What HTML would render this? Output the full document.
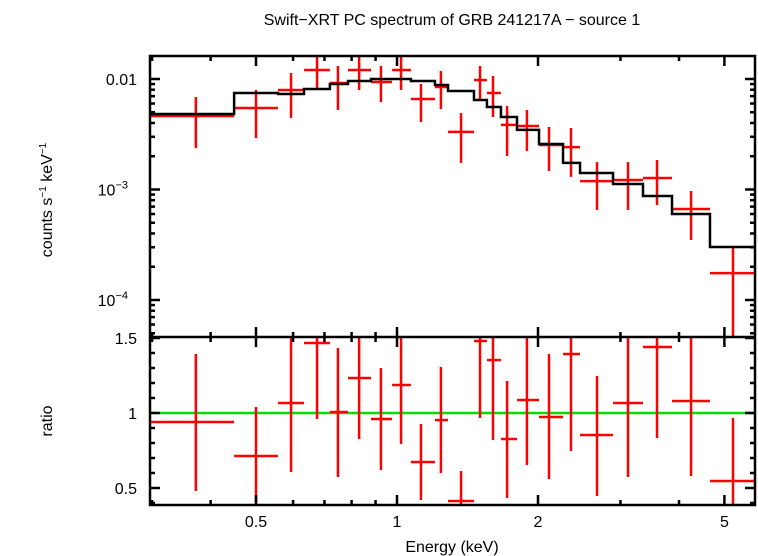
<!DOCTYPE html>
<html><head><meta charset="utf-8"><style>
html,body{margin:0;padding:0;background:#fff;}
svg{display:block;font-family:"Liberation Sans",sans-serif;}
</style></head><body>
<svg id="chart" width="758" height="556" viewBox="0 0 758 556" xmlns="http://www.w3.org/2000/svg">
<text x="452" y="25" font-size="16" text-anchor="middle">Swift−XRT PC spectrum of GRB 241217A − source 1</text>
<text transform="translate(52,200) rotate(-90)" font-size="16" text-anchor="middle">counts s<tspan font-size="10" dy="-6">−1</tspan><tspan dy="6"> keV</tspan><tspan font-size="10" dy="-6">−1</tspan></text>
<text transform="translate(52,421) rotate(-90)" font-size="16" text-anchor="middle">ratio</text>
<text x="452" y="552" font-size="16" text-anchor="middle">Energy (keV)</text>
<g id="g"></g>
</svg>
<script>
const binLo=[0.297,0.449,0.557,0.633,0.719,0.786,0.880,0.976,1.071,1.205,1.285,1.460,1.556,1.667,1.804,2.010,2.262,2.459,2.892,3.351,3.865,4.658];
const binHi=[0.449,0.557,0.633,0.719,0.786,0.880,0.976,1.071,1.205,1.285,1.460,1.556,1.667,1.804,2.010,2.262,2.459,2.892,3.351,3.865,4.658,5.81];
const binCenter=[0.372,0.500,0.594,0.675,0.748,0.830,0.924,1.020,1.125,1.241,1.370,1.504,1.603,1.718,1.894,2.111,2.352,2.673,3.113,3.590,4.244,5.216];
const rate=[0.00463,0.00546,0.00795,0.01206,0.00920,0.01206,0.00940,0.01206,0.00659,0.00847,0.00332,0.00979,0.00747,0.00384,0.00376,0.00253,0.00242,0.00119,0.00122,0.00127,0.000666,0.000175];
const rateHi=[0.00687,0.00795,0.01133,0.01649,0.01311,0.01615,0.01311,0.01615,0.00901,0.01181,0.00492,0.01311,0.01064,0.00570,0.00524,0.00368,0.00360,0.00177,0.00177,0.00185,0.000969,0.000296];
const rateLo=[0.00237,0.00292,0.00444,0.00829,0.00524,0.00795,0.00619,0.00795,0.00408,0.00535,0.00174,0.00659,0.00453,0.00201,0.00223,0.00147,0.00130,0.000653,0.000653,0.000724,0.000349,0.00001];
const model=[0.00482,0.00747,0.00732,0.00812,0.00901,0.00959,0.0100,0.0100,0.00959,0.00882,0.00779,0.00646,0.00558,0.00453,0.00346,0.00258,0.00174,0.00141,0.00112,0.000873,0.000600,0.000302];
const ratio=[0.94,0.713,1.067,1.467,1.007,1.233,0.96,1.187,0.673,0.953,0.413,1.48,1.353,0.827,1.087,0.973,1.393,0.853,1.067,1.44,1.08,0.547];
const ratioLo=[0.48,0.387,0.607,0.96,0.573,0.827,0.62,0.793,0.42,0.6,0.3,0.967,0.82,0.433,0.653,0.56,0.747,0.447,0.573,0.833,0.58,0.3];
const ratioHi=[1.393,1.04,1.6,1.6,1.433,1.6,1.3,1.6,0.927,1.307,0.613,1.6,1.6,1.213,1.6,1.393,1.6,1.247,1.6,1.6,1.6,0.967];
const xTickLabels=[0.5,1,2,5];
const xMinorTicks=[0.3,0.4,0.6,0.7,0.8,0.9,3,4];
const ratioTicks=[0.5,1,1.5];
const ratioMinor=[0.4,0.6,0.7,0.8,0.9,1.1,1.2,1.3,1.4];

const L=150,R=755,T=56,M=337,B=505;
const X=e=>397+468.4*Math.log10(e);
const Y=v=>79-110.5*(Math.log10(v)+2);
const YR=r=>413-150*(r-1);
const NS="http://www.w3.org/2000/svg";
const g=document.getElementById('g');
function el(tag,attrs,parent){const e=document.createElementNS(NS,tag);for(const k in attrs)e.setAttribute(k,attrs[k]);(parent||g).appendChild(e);return e;}
const clip=el('clipPath',{id:'ct'});el('rect',{x:L,y:T,width:R-L,height:M-T},clip);
const clip2=el('clipPath',{id:'cb'});el('rect',{x:L,y:M,width:R-L,height:B-M},clip2);
const topPanel=el('g',{'clip-path':'url(#ct)'});


const botPanel=el('g',{'clip-path':'url(#cb)'});


const cl=v=>Math.max(T-5,Math.min(M+5,v));
for(let i=0;i<rate.length;i++){
  const c=el('g',{stroke:'#f00','stroke-width':2.5},topPanel);
  
  
  el('line',{x1:X(binLo[i]),x2:X(binHi[i]),y1:Y(rate[i]),y2:Y(rate[i])},c);
  el('line',{x1:X(binCenter[i]),x2:X(binCenter[i]),y1:cl(Y(rateHi[i])),y2:cl(Y(rateLo[i]))},c);
}
let d='';
for(let i=0;i<model.length;i++){d+=(i?'L':'M')+X(binLo[i])+','+Y(model[i])+'L'+X(binHi[i])+','+Y(model[i]);}
d+='L'+R+','+Y(model[model.length-1]);
const mp=el('path',{d:d,fill:'none',stroke:'#000','stroke-width':2.5},topPanel);


const ref=el('line',{x1:L,x2:R,y1:YR(1),y2:YR(1),stroke:'#00e000','stroke-width':2.5},botPanel);


for(let i=0;i<ratio.length;i++){
  const c=el('g',{stroke:'#f00','stroke-width':2.5},botPanel);
  
  
  el('line',{x1:X(binLo[i]),x2:X(binHi[i]),y1:YR(ratio[i]),y2:YR(ratio[i])},c);
  el('line',{x1:X(binCenter[i]),x2:X(binCenter[i]),y1:YR(ratioHi[i]),y2:YR(ratioLo[i])},c);
}
const f=el('g',{stroke:'#000','stroke-width':2.5,fill:'none'});


el('rect',{x:L,y:T,width:R-L,height:B-T},f);
el('line',{x1:L,x2:R,y1:M,y2:M},f);
for(const panel of [[T,M],[M,B]]){
  for(const t of xTickLabels){const x=X(t);el('line',{x1:x,x2:x,y1:panel[0],y2:panel[0]+10},f);el('line',{x1:x,x2:x,y1:panel[1],y2:panel[1]-10},f);}
  for(const t of xMinorTicks){const x=X(t);el('line',{x1:x,x2:x,y1:panel[0],y2:panel[0]+5},f);el('line',{x1:x,x2:x,y1:panel[1],y2:panel[1]-5},f);}
}
for(const t of xTickLabels){
  const tx=el('text',{x:X(t),y:527,'font-size':16,'text-anchor':'middle'});
  
  
  tx.textContent=String(t);
}
for(let dec=-5;dec<=-2;dec++){
  for(let m=1;m<10;m++){
    const v=m*Math.pow(10,dec);const y=Y(v);if(y<T||y>M)continue;
    const len=m===1?10:5;
    el('line',{x1:L,x2:L+len,y1:y,y2:y},f);el('line',{x1:R,x2:R-len,y1:y,y2:y},f);
  }
}
const yl=[["0.01",0.01],["10",0.001,"−3"],["10",0.0001,"−4"]];
for(const a of yl){
  const tx=el('text',{x:a[2]?128:137,y:Y(a[1])+6,'font-size':16,'text-anchor':'end'});
  
  
  tx.textContent=a[0];
  if(a[2]){const s=el('tspan',{'font-size':11,dy:-7},tx);s.textContent=a[2];}
}
for(const t of ratioTicks){const y=YR(t);el('line',{x1:L,x2:L+10,y1:y,y2:y},f);el('line',{x1:R,x2:R-10,y1:y,y2:y},f);
  const tx=el('text',{x:137,y:y+6,'font-size':16,'text-anchor':'end'});
  
  
  tx.textContent=String(t);}
for(const t of ratioMinor){const y=YR(t);if(y>B)continue;el('line',{x1:L,x2:L+5,y1:y,y2:y},f);el('line',{x1:R,x2:R-5,y1:y,y2:y},f);}
</script>
</body></html>
